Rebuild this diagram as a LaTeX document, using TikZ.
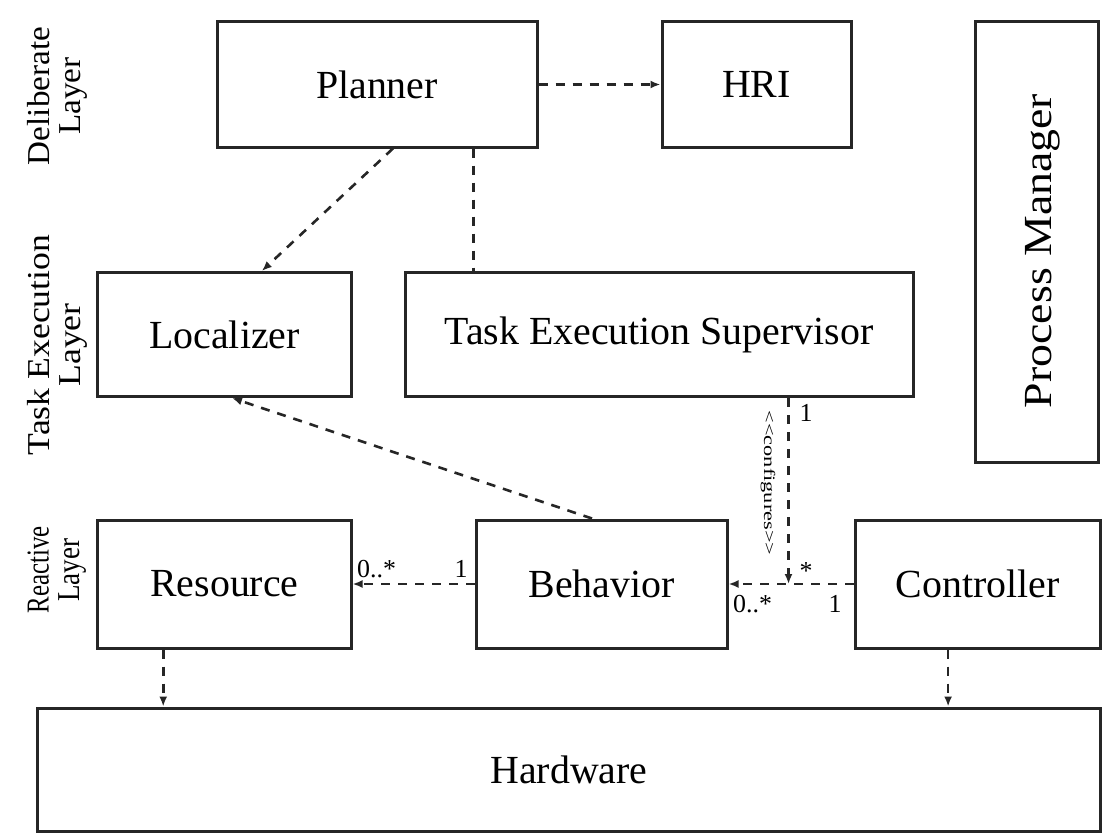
\documentclass[tikz,border=0pt]{standalone}
\usepackage{fontspec}
\setmainfont{Liberation Serif}
\usetikzlibrary{arrows.meta}
\tikzset{
  box/.style={draw=black!85, line width=3bp, inner sep=0pt, font=\fontsize{40}{48}\selectfont},
  dep/.style={draw=black!85, line width=2.6bp, dash pattern=on 9bp off 8bp},
  arr/.style={dep, -{Latex[length=10bp,width=8bp]}},
  layerlbl/.style={rotate=90, align=center, inner sep=0pt, font=\fontsize{32}{31}\selectfont},
  mult/.style={font=\fontsize{26}{28}\selectfont, inner sep=0pt},
}
\begin{document}
\begin{tikzpicture}[x=1bp,y=-1bp]
\useasboundingbox (0,0) rectangle (1102,834);
\fill[white] (0,0) rectangle (1102,834);

\node[box, minimum width=320bp, minimum height=125bp] (planner) at (377,84.5) {Planner};
\node[box, minimum width=189bp, minimum height=125bp] (hri) at (756.5,84.5) {HRI};
\node[box, minimum width=123bp, minimum height=440bp] (pm) at (1036.5,242) {};
\node[rotate=90, inner sep=0pt, font=\fontsize{40}{48}\selectfont] (pmlbl) at (1043,251) {\scalebox{1.15}[1]{Process Manager}};
\node[box, minimum width=253bp, minimum height=124bp] (localizer) at (224.5,334.5) {Localizer};
\node[box, minimum width=508bp, minimum height=124bp] (tes) at (659,334.5) {Task Execution Supervisor};
\node[box, minimum width=253bp, minimum height=128bp] (resource) at (224.5,584) {Resource};
\node[box, minimum width=251bp, minimum height=128bp] (behavior) at (601.5,584) {Behavior};
\node[box, minimum width=245bp, minimum height=128bp] (controller) at (977.5,584) {Controller};
\node[box, minimum width=1062bp, minimum height=123bp] (hardware) at (569,769.5) {Hardware};

\node[layerlbl] (l1) at (57,96) {\scalebox{1.04}[1]{Deliberate}\\\scalebox{1.04}[1]{Layer}};
\node[layerlbl] (l2) at (57,345) {\scalebox{1.12}[1]{Task Execution}\\\scalebox{1.12}[1]{Layer}};
\node[layerlbl] (l3) at (57,570) {\scalebox{0.78}[1]{Reactive}\\\scalebox{0.85}[1]{Layer}};

% connectors
\draw[arr] (planner.east) -- (hri.west);
\draw[arr] ([xshift=16]planner.south) -- ([xshift=37.5]localizer.north);
\draw[dep] ([xshift=97]planner.south) -- ([xshift=97]planner.south |- tes.north);
\draw[arr] ([xshift=-9.5]behavior.north) -- ([xshift=7.5]localizer.south);
\draw[arr] (behavior.west) -- (resource.east);
\draw[arr] (controller.west) -- (behavior.east);
\coordinate (cfg) at ([xshift=130]tes.south |- behavior.east);
\draw[arr] ([xshift=130]tes.south) -- (cfg);
\draw[arr] ([xshift=-61.5]resource.south) -- ([xshift=-61.5]resource.south |- hardware.north);
\draw[arr] ([xshift=-29.5]controller.south) -- ([xshift=-29.5]controller.south |- hardware.north);

% labels
\node[mult, anchor=south west] (m1) at (357,578) {0..*};
\node[mult, anchor=south] (m2) at (461,578) {1};
\node[mult, anchor=north west] (m3) at (733,595) {0..*};
\node[mult, anchor=north] (m4) at (835,595) {1};
\node[mult, anchor=north] (m5) at (806,404) {1};
\node[mult, anchor=south] (m6) at (806,580) {*};
\node[rotate=-90, font=\fontsize{16}{17}\selectfont, inner sep=0pt] (cfglbl) at (768,483) {\scalebox{1.4}[1]{<{}<configures>{}>}};
\end{tikzpicture}
\end{document}
